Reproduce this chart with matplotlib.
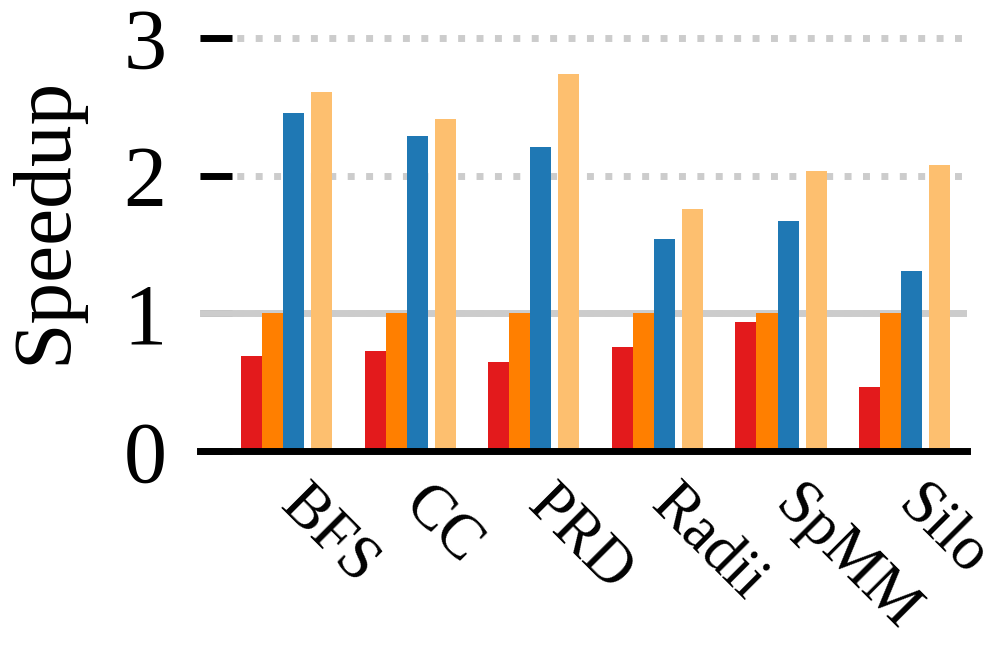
import matplotlib
matplotlib.use("Agg")
import matplotlib.pyplot as plt
import numpy as np

categories = ["BFS", "CC", "PRD", "Radii", "SpMM", "Silo"]
series_red = [0.69, 0.73, 0.65, 0.755, 0.94, 0.465]
series_orange = [1.0, 1.0, 1.0, 1.0, 1.0, 1.0]
series_blue = [2.46, 2.29, 2.21, 1.54, 1.67, 1.31]
series_light = [2.61, 2.41, 2.74, 1.76, 2.035, 2.08]
yticks = [0, 1, 2, 3]

colors = ["#e31a1c", "#ff7f00", "#1f78b4", "#fdbf6f"]

plt.rcParams['font.family'] = 'serif'
plt.rcParams['font.serif'] = ['Liberation Serif', 'DejaVu Serif']
FAM = 'Liberation Serif'

fig = plt.figure(figsize=(9.89, 6.45), dpi=100)
ax = fig.add_axes([200/989, 0.3008, 767/989, 0.6613])

x = np.arange(len(categories))
w = 0.17
offsets = [-1.5 * w, -0.5 * w, 0.5 * w, 1.8333 * w]
for vals, off, c in zip([series_red, series_orange, series_blue, series_light], offsets, colors):
    ax.bar(x + off, vals, width=w, color=c, zorder=3, linewidth=0)

ax.set_xlim(-0.672, 5.533)
ax.set_ylim(0, 3.1)
ax.set_yticks(yticks)
ax.set_yticklabels([str(t) for t in yticks], family=FAM, fontsize=62)
ax.yaxis.grid(True, linestyle=':', color='#cccccc', linewidth=5, zorder=0)
ax.axhline(1, color='#cccccc', linewidth=5, zorder=1)
ax.set_axisbelow(True)

for s in ['left', 'right', 'top']:
    ax.spines[s].set_visible(False)
ax.spines['bottom'].set_linewidth(5)
ax.spines['bottom'].set_color('black')
ax.spines['bottom'].set_zorder(4)

ax.tick_params(axis='y', direction='in', length=23, width=5, pad=24, color='black')
ax.set_xticks(x - 0.12)
ax.set_xticklabels(categories, rotation=-45, ha='left', va='top', family=FAM, fontsize=45)
ax.tick_params(axis='x', length=0, pad=18)

ax.set_ylabel("Speedup", fontsize=60, family=FAM)
ax.yaxis.set_label_coords(-0.152, 0.54)

fig.savefig("out.png", dpi=100)
